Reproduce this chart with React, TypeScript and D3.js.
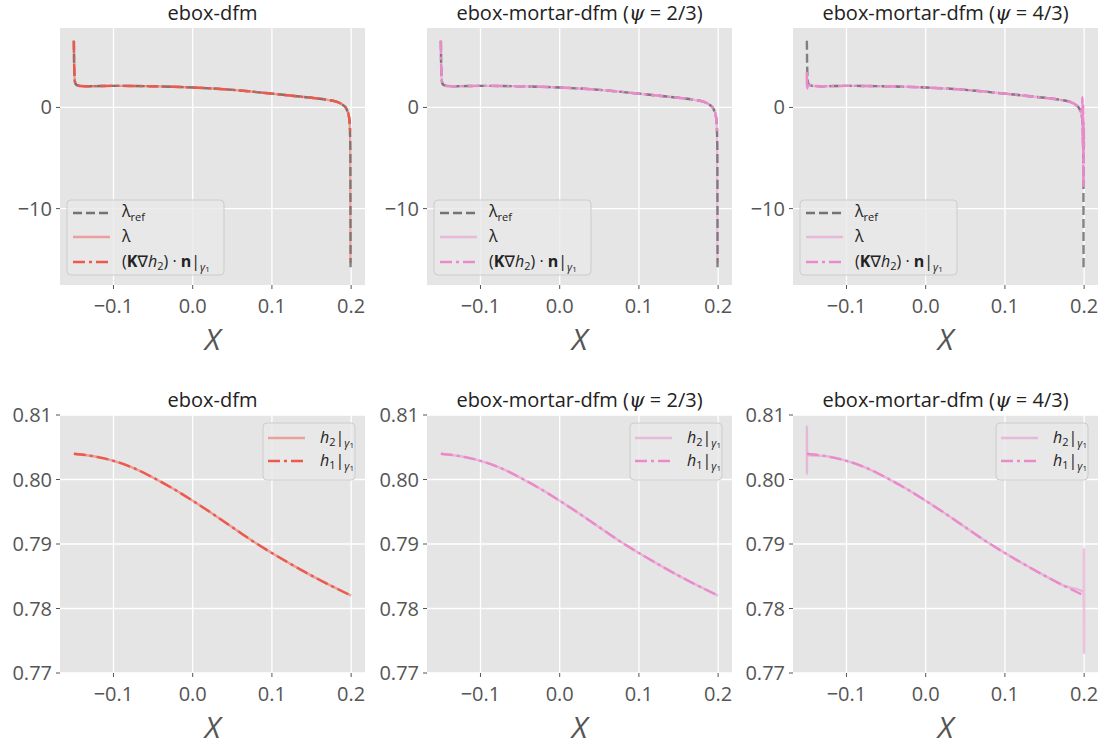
import React from "react";
import * as d3 from "d3";

// ---------- data ----------
const xTicks = [-0.1, 0.0, 0.1, 0.2];
const topYTicks = [-10, 0];
const bottomYTicks = [0.77, 0.78, 0.79, 0.8, 0.81];

const titles = ["ebox-dfm", "ebox-mortar-dfm (ψ = 2/3)", "ebox-mortar-dfm (ψ = 4/3)"];

// lambda curve (shared body)
const lamX = [-0.15, -0.1497, -0.1493, -0.1487, -0.148, -0.146, -0.142, -0.13, -0.1, -0.075, -0.05, -0.025, 0, 0.025, 0.05, 0.075, 0.1, 0.125, 0.15, 0.17, 0.18, 0.186, 0.19, 0.193, 0.195, 0.197, 0.198];
const lamRefY = [6.6, 4.5, 3.2, 2.6, 2.35, 2.2, 2.12, 2.1, 2.13, 2.12, 2.09, 2.04, 1.97, 1.87, 1.74, 1.56, 1.36, 1.16, 0.95, 0.75, 0.6, 0.42, 0.22, 0.0, -0.3, -0.8, -1.4];

const refTailX = [0.1985, 0.199, 0.1993];
const refTailY = [-2.2, -4.0, -15.8];
const lamTailX = [0.1985, 0.199, 0.1993];
const lamTailY = [-2.2, -4.0, -15.4];
const fluxTailX = [0.1985, 0.1988, 0.199];
const fluxTailY = [-1.9, -2.3, -2.5];

// psi = 4/3 lambda: oscillating head and tail
const lam43HeadX = [-0.15, -0.1498, -0.1496, -0.1494, -0.1491, -0.1487];
const lam43HeadY = [3.5, 2.0, 2.8, 1.9, 2.4, 2.3];
const lam43TailX = [0.197, 0.1978, 0.1983, 0.1987, 0.1991, 0.1995, 0.1998];
const lam43TailY = [-0.8, 1.0, -4.0, 0.3, -7.9, -1.5, -4.0];

// trace h on gamma_1
const hX = [-0.15, -0.125, -0.1, -0.075, -0.05, -0.025, 0, 0.025, 0.05, 0.075, 0.1, 0.125, 0.15, 0.175, 0.2];
const hY = [0.804, 0.8036, 0.8029, 0.8018, 0.8003, 0.7986, 0.7967, 0.7947, 0.7926, 0.7905, 0.7886, 0.7868, 0.7851, 0.7835, 0.782];

const h43HeadX = [-0.15, -0.14995, -0.1499, -0.14985, -0.1498, -0.1497, -0.1495];
const h43HeadY = [0.804, 0.8083, 0.8008, 0.8065, 0.803, 0.8045, 0.8038];
const h43TailX = [0.1994, 0.1996, 0.1997, 0.1998, 0.1999, 0.19995, 0.2];
const h43TailY = [0.7826, 0.7803, 0.7824, 0.7893, 0.7731, 0.781, 0.782];

// ---------- helpers ----------
type P = [number, number];
const zip = (xs: number[], ys: number[]): P[] => xs.map((x, i) => [x, ys[i]]);

const redC = "#EC5A4E";
const pinkC = "#EA8ACB";
const refC = "#666666";

const colLeft = [60, 427, 793];
const panelW = 305;
const topRow = { y: 28, h: 257 };
const botRow = { y: 415, h: 258 };
const topDomain: [number, number] = [-17.55, 7.85];
const botDomain: [number, number] = [0.77, 0.81];
const xExt = [-0.15, 0.2];
const xPad = (xExt[1] - xExt[0]) * 0.05;
const xDomain: [number, number] = [xExt[0] - xPad, xExt[1] + xPad];

const FONT = "'Open Sans', Lato, 'DejaVu Sans', sans-serif";
const DASH = "9,4";
const DASHDOT = "12,4,3,4";

const fmtX = (v: number) => (v < 0 ? "\u2212" : "") + Math.abs(v).toFixed(1);
const fmtTopY = (v: number) => (v < 0 ? "\u2212" : "") + Math.abs(v).toString();
const fmtBotY = (v: number) => v.toFixed(2);

function Title({ x, y, text }: { x: number; y: number; text: string }) {
  const idx = text.indexOf("ψ");
  if (idx < 0)
    return (
      <text x={x} y={y} textAnchor="middle" fontSize={20} fill="#222" fontFamily={FONT}>
        {text}
      </text>
    );
  return (
    <text x={x} y={y} textAnchor="middle" fontSize={20} fill="#222" fontFamily={FONT}>
      {text.slice(0, idx)}
      <tspan fontStyle="italic" fontFamily="'DejaVu Serif', serif">ψ</tspan>
      {text.slice(idx + 1)}
    </text>
  );
}

function Panel({
  col,
  row,
  top,
  color,
  series,
  title,
}: {
  col: number;
  row: { y: number; h: number };
  top: boolean;
  color: string;
  series: { pts: P[]; kind: "solid" | "dash" | "dashdot" }[];
  title: string;
}) {
  const x0 = colLeft[col];
  const x = d3.scaleLinear().domain(xDomain).range([x0, x0 + panelW]);
  const y = d3
    .scaleLinear()
    .domain(top ? topDomain : botDomain)
    .range([row.y + row.h, row.y]);
  const line = d3
    .line<P>()
    .x((d) => x(d[0]))
    .y((d) => y(d[1]))
    .curve(d3.curveMonotoneX);
  const yTicks = top ? topYTicks : bottomYTicks;
  const bottom = row.y + row.h;
  const clipId = `clip-${col}-${top ? "t" : "b"}`;
  const strokeFor = (k: string) => (k === "dash" ? refC : color);
  return (
    <g>
      <defs>
        <clipPath id={clipId}>
          <rect x={x0} y={row.y} width={panelW} height={row.h} />
        </clipPath>
      </defs>
      <rect x={x0} y={row.y} width={panelW} height={row.h} fill="#E5E5E5" />
      {xTicks.map((t) => (
        <line key={"gx" + t} x1={x(t)} x2={x(t)} y1={row.y} y2={bottom} stroke="#fff" strokeWidth={1.3} />
      ))}
      {yTicks.map((t) => (
        <line key={"gy" + t} x1={x0} x2={x0 + panelW} y1={y(t)} y2={y(t)} stroke="#fff" strokeWidth={1.3} />
      ))}
      <g clipPath={`url(#${clipId})`}>
        {series.map((s, i) => (
          <path
            key={i}
            d={line(s.pts) || ""}
            fill="none"
            stroke={strokeFor(s.kind)}
            strokeWidth={2.4}
            strokeOpacity={s.kind === "solid" ? 0.5 : s.kind === "dash" ? 0.8 : 1}
            strokeDasharray={s.kind === "dash" ? DASH : s.kind === "dashdot" ? DASHDOT : undefined}
            strokeLinejoin="round"
          />
        ))}
      </g>
      {xTicks.map((t) => (
        <g key={"tx" + t}>
          <line x1={x(t)} x2={x(t)} y1={bottom} y2={bottom + 4} stroke="#555" strokeWidth={1} />
          <text x={x(t)} y={bottom + 28} textAnchor="middle" fontSize={20} fill="#555" fontFamily={FONT}>
            {fmtX(t)}
          </text>
        </g>
      ))}
      {yTicks.map((t) => (
        <g key={"ty" + t}>
          <line x1={x0 - 4} x2={x0} y1={y(t)} y2={y(t)} stroke="#555" strokeWidth={1} />
          <text x={x0 - 8} y={y(t) + 7} textAnchor="end" fontSize={20} fill="#555" fontFamily={FONT}>
            {top ? fmtTopY(t) : fmtBotY(t)}
          </text>
        </g>
      ))}
      <text
        x={x0 + panelW / 2}
        y={bottom + 65}
        textAnchor="middle"
        fontSize={30}
        fontStyle="italic"
        fill="#555"
        fontFamily={FONT}
      >
        X
      </text>
      <Title x={x0 + panelW / 2} y={row.y - 8} text={title} />
      {top ? <TopLegend x0={x0} bottom={bottom} color={color} /> : <BotLegend x1={x0 + panelW} top={row.y} color={color} />}
    </g>
  );
}

function TopLegend({ x0, bottom, color }: { x0: number; bottom: number; color: string }) {
  const bx = x0 + 7;
  const by = bottom - 85;
  const rows = [by + 13, by + 37, by + 62];
  const lx1 = bx + 6;
  const lx2 = bx + 43;
  const tx = bx + 55;
  const fs = 16;
  return (
    <g fontFamily={FONT} fill="#222">
      <rect x={bx} y={by} width={157} height={75} rx={4} fill="#E8E8E8" fillOpacity={0.8} stroke="#CCCCCC" />
      <line x1={lx1} x2={lx2} y1={rows[0]} y2={rows[0]} stroke={refC} strokeWidth={2.4} strokeDasharray={DASH} strokeOpacity={0.9} />
      <line x1={lx1} x2={lx2} y1={rows[1]} y2={rows[1]} stroke={color} strokeWidth={2.4} strokeOpacity={0.5} />
      <line x1={lx1} x2={lx2} y1={rows[2]} y2={rows[2]} stroke={color} strokeWidth={2.4} strokeDasharray={DASHDOT} />
      <text x={tx} y={rows[0] + 4} fontSize={fs}>
        λ<tspan fontSize={11} dy={4}>ref</tspan>
      </text>
      <text x={tx} y={rows[1] + 5} fontSize={fs}>
        λ
      </text>
      <text x={tx} y={rows[2] + 5} fontSize={fs}>
        (<tspan fontWeight="bold">K</tspan>∇<tspan fontStyle="italic">h</tspan>
        <tspan fontSize={11} dy={3}>2</tspan>
        <tspan dy={-3}>) · </tspan>
        <tspan fontWeight="bold">n</tspan>|<tspan fontSize={11} dy={4} fontStyle="italic">γ</tspan>
        <tspan fontSize={8} dy={1}>1</tspan>
      </text>
    </g>
  );
}

function BotLegend({ x1, top, color }: { x1: number; top: number; color: string }) {
  const bw = 92;
  const bx = x1 - 10 - bw;
  const by = top + 8;
  const rows = [by + 15, by + 38];
  const lx1 = bx + 5;
  const lx2 = bx + 42;
  const tx = bx + 57;
  const fs = 16;
  return (
    <g fontFamily={FONT} fill="#222">
      <rect x={bx} y={by} width={bw} height={57} rx={4} fill="#E8E8E8" fillOpacity={0.8} stroke="#CCCCCC" />
      <line x1={lx1} x2={lx2} y1={rows[0]} y2={rows[0]} stroke={color} strokeWidth={2.4} strokeOpacity={0.5} />
      <line x1={lx1} x2={lx2} y1={rows[1]} y2={rows[1]} stroke={color} strokeWidth={2.4} strokeDasharray={DASHDOT} />
      <text x={tx} y={rows[0] + 5} fontSize={fs}>
        <tspan fontStyle="italic">h</tspan>
        <tspan fontSize={11} dy={3}>2</tspan>
        <tspan dy={-3}>|</tspan>
        <tspan fontSize={11} dy={4} fontStyle="italic">γ</tspan>
        <tspan fontSize={8} dy={1}>1</tspan>
      </text>
      <text x={tx} y={rows[1] + 5} fontSize={fs}>
        <tspan fontStyle="italic">h</tspan>
        <tspan fontSize={11} dy={3}>1</tspan>
        <tspan dy={-3}>|</tspan>
        <tspan fontSize={11} dy={4} fontStyle="italic">γ</tspan>
        <tspan fontSize={8} dy={1}>1</tspan>
      </text>
    </g>
  );
}

export default function App() {
  const body = zip(lamX, lamRefY);
  const ref = [...body, ...zip(refTailX, refTailY)];
  const lam = [...body, ...zip(lamTailX, lamTailY)];
  const flux = [...body, ...zip(fluxTailX, fluxTailY)];
  const body43 = zip(lamX.slice(5), lamRefY.slice(5));
  const lam43 = [...zip(lam43HeadX, lam43HeadY), ...body43, ...zip(lam43TailX, lam43TailY)];
  const h = zip(hX, hY);
  const h43 = [...zip(h43HeadX, h43HeadY), ...zip(hX.slice(1), hY.slice(1)).slice(0, -1), ...zip(h43TailX, h43TailY)];

  const colors = [redC, pinkC, pinkC];
  const topSeries = [
    [
      { pts: lam, kind: "solid" as const },
      { pts: ref, kind: "dash" as const },
      { pts: flux, kind: "dashdot" as const },
    ],
    [
      { pts: lam, kind: "solid" as const },
      { pts: ref, kind: "dash" as const },
      { pts: flux, kind: "dashdot" as const },
    ],
    [
      { pts: lam43, kind: "solid" as const },
      { pts: ref, kind: "dash" as const },
      { pts: lam43, kind: "dashdot" as const },
    ],
  ];
  const botSeries = [
    [
      { pts: h, kind: "solid" as const },
      { pts: h, kind: "dashdot" as const },
    ],
    [
      { pts: h, kind: "solid" as const },
      { pts: h, kind: "dashdot" as const },
    ],
    [
      { pts: h43, kind: "solid" as const },
      { pts: h, kind: "dashdot" as const },
    ],
  ];

  return (
    <svg width={1107} height={746} style={{ position: "absolute", left: 0, top: 0, background: "#fff" }}>
      {[0, 1, 2].map((c) => (
        <Panel key={"t" + c} col={c} row={topRow} top={true} color={colors[c]} series={topSeries[c]} title={titles[c]} />
      ))}
      {[0, 1, 2].map((c) => (
        <Panel key={"b" + c} col={c} row={botRow} top={false} color={colors[c]} series={botSeries[c]} title={titles[c]} />
      ))}
    </svg>
  );
}
